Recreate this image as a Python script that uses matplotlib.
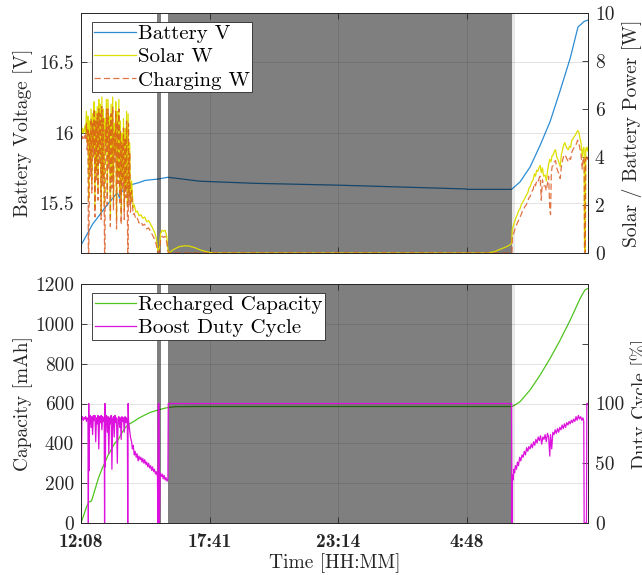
import matplotlib
matplotlib.use("Agg")
import matplotlib.pyplot as plt

# time axis: minutes after 12:08
xt = [0, 333, 666, 999]
xt_lab = ["12:08", "17:41", "23:14", "4:48"]
xmax = 1313
night = [(197, 206), (226, 1115)]   # shaded (dark) periods
dusk = (1115, 1124)

# battery voltage [V]
bat_t = [0, 10, 20, 30, 44, 60, 75, 90, 94, 100, 105, 114, 125, 135, 150, 165, 180, 199, 215, 225,
         308, 450, 666, 850, 997, 999, 1115, 1137, 1163, 1189, 1215, 1241, 1267, 1287, 1303, 1313]
bat_v = [15.20, 15.25, 15.30, 15.35, 15.40, 15.46, 15.51, 15.56, 15.57, 15.535, 15.58, 15.60, 15.62,
         15.634, 15.645, 15.66, 15.665, 15.67, 15.678, 15.683, 15.655, 15.64, 15.627, 15.612, 15.60,
         15.597, 15.597, 15.65, 15.756, 15.91, 16.08, 16.30, 16.53, 16.75, 16.79, 16.80]

# solar power [W]
sol_t = [0, 2, 4, 6, 8, 10, 12, 14, 16, 18, 20, 22, 24, 26, 28, 30, 32, 34, 36, 38, 40, 42, 44, 46, 48,
         50, 52, 54, 56, 58, 60, 62, 64, 66, 68, 70, 72, 74, 76, 78, 80, 82, 84, 86, 88, 90, 92, 94, 96,
         98, 100, 102, 104, 106, 108, 110, 112, 114, 116, 118, 120, 122, 124, 126, 128, 131, 135, 138,
         142, 146, 150, 155, 160, 165, 170, 175, 180, 185, 191, 195, 199, 203, 206, 210, 214, 218, 222,
         225, 228, 240, 255, 270, 280, 295, 310, 330, 350, 1050, 1070, 1085, 1100, 1110, 1115, 1117,
         1120, 1123, 1126, 1130, 1133, 1137, 1140, 1143, 1147, 1150, 1153, 1157, 1160, 1163, 1167, 1171,
         1174, 1177, 1180, 1183, 1186, 1189, 1192, 1195, 1198, 1202, 1205, 1208, 1211, 1214, 1217, 1220,
         1223, 1226, 1229, 1232, 1235, 1238, 1241, 1244, 1247, 1250, 1253, 1256, 1259, 1262, 1265, 1268,
         1271, 1274, 1277, 1280, 1283, 1286, 1289, 1292, 1295, 1298, 1300, 1302, 1303, 1304, 1306, 1307,
         1309, 1311, 1313]
sol_w = [5.1, 5.0, 5.2, 5.0, 5.1, 5.3, 5.0, 5.9, 4.6, 5.7, 2.2, 5.5, 3.6, 6.0, 2.9, 5.8, 4.4, 6.3, 1.9,
         5.9, 3.4, 6.1, 2.6, 6.4, 4.1, 6.2, 1.7, 6.5, 3.2, 6.0, 2.0, 5.6, 4.6, 6.4, 2.4, 6.4, 3.9, 5.7,
         1.5, 6.2, 3.1, 6.5, 2.2, 5.4, 4.2, 6.3, 1.4, 5.9, 3.3, 6.4, 2.5, 5.5, 1.6, 5.0, 3.0, 5.6, 1.8,
         5.2, 2.7, 5.9, 2.0, 5.8, 2.4, 4.6, 2.1, 3.0, 1.9, 2.0, 1.7, 1.75, 1.55, 1.6, 1.45, 1.5, 1.3,
         1.35, 1.2, 1.05, 0.85, 0.6, 0.1, 0.2, 0.8, 0.95, 0.9, 0.95, 0.7, 0.15, 0.0, 0.15, 0.27, 0.3,
         0.29, 0.22, 0.12, 0.03, 0.0, 0.0, 0.05, 0.15, 0.25, 0.33, 0.4, 1.0,
         1.15, 1.3, 1.45, 1.6, 1.75, 1.85, 2.0, 2.1, 2.2, 2.3, 2.4, 2.5, 2.7, 2.75, 2.95, 3.05,
         3.3, 3.2, 3.45, 3.4, 3.55, 3.65, 3.35, 3.55, 3.2, 3.25, 3.0, 3.4, 3.7, 3.9, 3.8, 4.05,
         4.1, 4.25, 4.3, 4.0, 3.9, 3.75, 3.6, 4.1, 4.3, 4.5, 4.6, 4.45, 4.35, 4.3, 4.45, 4.4,
         4.7, 4.75, 4.85, 4.9, 5.0, 5.1, 5.05, 4.8, 4.6, 4.0, 4.3, 4.4, 4.3, 0.2, 0.05, 4.3,
         4.4, 4.25, 4.4]

# charging power [W]
chg_t = [0, 2, 4, 6, 8, 10, 12, 14, 16, 18, 19, 20, 21, 22, 24, 26, 28, 30, 32, 34, 36, 38, 40, 42, 44,
         46, 48, 50, 52, 54, 56, 58, 60, 61, 62, 63, 64, 66, 68, 70, 72, 74, 76, 78, 80, 82, 84, 86, 88,
         90, 92, 94, 96, 98, 100, 102, 104, 106, 108, 110, 112, 114, 116, 118, 120, 121, 122, 123, 124,
         126, 128, 131, 135, 138, 142, 146, 150, 155, 160, 165, 170, 175, 180, 185, 191, 195, 199, 203,
         206, 210, 214, 218, 222, 225, 228, 1116, 1117,
         1120, 1123, 1126, 1130, 1133, 1137, 1140, 1143, 1147, 1150, 1153, 1157, 1160, 1163, 1167, 1171,
         1174, 1177, 1180, 1183, 1186, 1189, 1192, 1195, 1198, 1202, 1205, 1208, 1211, 1214, 1216, 1218,
         1220, 1223, 1226, 1229, 1232, 1235, 1238, 1241, 1244, 1247, 1250, 1253, 1256, 1259, 1262, 1265,
         1268, 1271, 1274, 1277, 1280, 1283, 1286, 1289, 1292, 1295, 1298, 1300, 1302, 1303, 1304, 1306,
         1307, 1309, 1311, 1313]
chg_w = [4.8, 4.75, 4.85, 4.7, 4.8, 4.9, 4.7, 5.4, 4.3, 5.2, 0.0, 0.0, 1.8, 5.0, 3.2, 5.6, 2.5, 5.4,
         4.0, 6.0, 1.5, 5.5, 3.0, 5.8, 2.2, 6.0, 3.7, 5.8, 1.4, 6.1, 2.8, 5.6, 1.6, 0.0, 0.0, 5.2, 4.2,
         6.0, 2.0, 6.0, 3.5, 5.3, 1.1, 5.8, 2.7, 6.1, 1.8, 5.0, 3.8, 5.9, 1.0, 5.5, 2.9, 6.0, 2.1, 5.1,
         1.2, 4.6, 2.6, 5.2, 1.4, 4.8, 2.3, 5.5, 1.6, 0.0, 0.0, 5.4, 2.0, 4.2, 1.7, 2.6, 1.6, 1.65, 1.4,
         1.45, 1.25, 1.3, 1.15, 1.2, 1.0, 1.05, 0.9, 0.75, 0.55, 0.35, 0.0, 0.05, 0.55, 0.7, 0.65, 0.7,
         0.45, 0.05, 0.0, 0.0, 0.7,
         0.8, 0.95, 1.1, 1.25, 1.35, 1.5, 1.6, 1.75, 1.85, 1.95, 2.0, 2.15, 2.3, 2.35, 2.55, 2.65,
         2.9, 2.8, 3.0, 2.95, 3.1, 3.2, 2.2, 3.05, 2.8, 2.8, 2.6, 2.9, 3.2, 1.8, 1.6, 3.3,
         3.6, 3.65, 3.8, 3.85, 3.55, 3.4, 3.3, 3.1, 3.6, 3.85, 4.05, 4.1, 4.0, 3.9, 3.8, 3.95,
         3.9, 4.2, 4.3, 4.4, 4.45, 4.55, 4.7, 4.6, 4.35, 4.1, 3.5, 3.9, 4.0, 3.9, 0.0, 0.0,
         3.9, 4.0, 3.85, 4.0]

# recharged capacity [mAh]
cap_t = [0, 8, 15, 20, 27, 35, 45, 55, 61, 70, 80, 87, 96, 105, 115, 125, 135, 150, 165, 180, 199, 220,
         243, 300, 1115, 1120, 1137, 1163, 1189, 1215, 1241, 1267, 1293, 1305, 1311, 1313]
cap_mah = [0, 45, 85, 105, 110, 160, 225, 275, 300, 340, 375, 400, 417, 450, 480, 497, 508, 527, 542,
           556, 567, 578, 584, 585, 585, 588, 609, 668, 743, 827, 919, 1019, 1129, 1170, 1176, 1176]

# boost duty cycle [%]
duty_t = [0, 1, 2, 4, 6, 8, 10, 12, 14, 16, 18, 19, 20, 21, 22, 24, 26, 28, 30, 32, 34, 36, 38, 40, 42,
          44, 46, 48, 50, 52, 54, 56, 58, 60, 61, 62, 63, 64, 66, 68, 70, 72, 74, 76, 78, 80, 82, 84, 86,
          88, 90, 92, 94, 96, 98, 100, 102, 104, 106, 108, 110, 112, 114, 116, 118, 120, 121, 122, 123,
          125, 128, 131, 133, 135, 138, 140, 143, 145, 148, 150, 153, 155, 158, 160, 163, 165, 168, 170,
          173, 175, 178, 180, 183, 185, 188, 190, 193, 195, 198, 199, 200, 202, 203, 205, 208, 210, 213,
          215, 218, 220, 223, 225, 226, 1115, 1116, 1117, 1119, 1121, 1123, 1125, 1128, 1130, 1133, 1136,
          1139, 1142, 1145, 1148, 1151, 1154, 1157, 1160, 1163, 1166, 1169, 1172, 1175, 1178, 1181, 1184,
          1187, 1190, 1193, 1196, 1199, 1202, 1205, 1208, 1211, 1214, 1216, 1219, 1222, 1225, 1228, 1231,
          1234, 1237, 1240, 1243, 1246, 1249, 1252, 1255, 1258, 1261, 1264, 1267, 1270, 1273, 1276, 1279,
          1282, 1285, 1288, 1291, 1294, 1297, 1300, 1302, 1303, 1309, 1310, 1313]
duty_pct = [88, 45, 87, 89, 86, 88, 87, 89, 85, 88, 87, 0, 100, 44, 85, 90, 80, 89, 74, 90, 86, 90, 68,
            88, 83, 90, 62, 89, 84, 90, 78, 89, 85, 88, 0, 100, 47, 86, 90, 76, 89, 58, 88, 83, 90, 45,
            87, 89, 72, 90, 84, 88, 50, 87, 89, 80, 88, 70, 89, 85, 88, 76, 89, 84, 88, 82, 0, 100, 86,
            80, 72, 68, 62, 65, 57, 60, 55, 58, 52, 56, 53, 55, 51, 54, 50, 53, 49, 51, 47, 50, 46, 48,
            44, 47, 43, 45, 41, 43, 39, 0, 100, 100, 0, 42, 39, 41, 37, 40, 36, 38, 35, 37, 100, 100, 0,
            40, 36, 45, 42, 48, 45, 51, 48, 55, 52, 57, 55, 60, 57, 63, 60, 64, 62, 66, 63, 68, 65, 70,
            67, 72, 69, 73, 66, 72, 70, 74, 68, 75, 72, 56, 74, 62, 76, 74, 78, 75, 79, 76, 80, 78, 82,
            79, 83, 80, 84, 82, 85, 83, 86, 84, 87, 85, 89, 86, 90, 87, 89, 86, 88, 85, 0, 0, 100, 100]

plt.rcParams["font.family"] = "cmr10"
plt.rcParams["axes.unicode_minus"] = False
plt.rcParams["font.size"] = 14
INK = "#262626"
GRID = dict(color=INK, alpha=0.15, lw=0.6)
LEG = dict(loc="upper left", fancybox=False, framealpha=1, edgecolor=INK, fontsize=15,
           borderpad=0.12, labelspacing=0.22, handlelength=2.0, handletextpad=0.1, borderaxespad=0)

fig = plt.figure(figsize=(6.42, 5.75), dpi=100)
ax1 = fig.add_axes([0.1262, 0.56, 0.7897, 0.4174])
ax3 = fig.add_axes([0.1262, 0.0904, 0.7897, 0.4157])


def frame(ax, ax_r):
    ax.set_xlim(0, xmax)
    ax.set_xticks(xt)
    ax.set_axisbelow(False)
    ax.grid(True, **GRID)
    for a in (ax, ax_r):
        for s in a.spines.values():
            s.set_color(INK)
            s.set_linewidth(0.6)
    ax.tick_params(direction="in", top=True, right=False, length=4, width=0.6, colors=INK, pad=5)
    ax_r.tick_params(direction="in", length=4, width=0.6, colors=INK, pad=5)
    for a, b in night:
        ax.axvspan(a, b, color="black", alpha=0.5, lw=0, zorder=2.2)
    ax.axvspan(*dusk, color="black", alpha=0.09, lw=0, zorder=2.2)


# --- top: battery voltage / power
ax2 = ax1.twinx()
lb, = ax1.plot(bat_t, bat_v, color="#2b8cd4", lw=0.9, label="Battery V")
ls, = ax2.plot(sol_t, sol_w, color="#dede00", lw=0.9, label="Solar W")
lc, = ax2.plot(chg_t, chg_w, color="#D95319", lw=0.9, alpha=0.8, ls=(0, (5, 2.5)), label="Charging W")
ax1.set_ylim(15.145, 16.85)
ax1.set_yticks([15.5, 16, 16.5], ["15.5", "16", "16.5"])
ax2.set_ylim(0, 10)
ax2.set_yticks([0, 2, 4, 6, 8, 10], ["0", "2", "4", "6", "8", "10"])
frame(ax1, ax2)
ax1.set_xticklabels([])
ax1.set_ylabel("Battery Voltage [V]", color=INK)
ax1.yaxis.set_label_coords(-0.095, 0.5)
ax2.set_ylabel("Solar / Battery Power [W]", color=INK)
ax2.yaxis.set_label_coords(1.067, 0.5)
leg = ax2.legend(handles=[lb, ls, lc], bbox_to_anchor=(0.021, 0.962), **LEG)
leg.get_frame().set_linewidth(0.6)

# --- bottom: capacity / duty cycle
ax4 = ax3.twinx()
lg, = ax3.plot(cap_t, cap_mah, color="#4fc41f", lw=0.9, label="Recharged Capacity")
lm, = ax4.plot(duty_t, duty_pct, color="#dd11dd", lw=0.9, label="Boost Duty Cycle")
ax3.set_ylim(0, 1200)
ax3.set_yticks(range(0, 1201, 200))
ax4.set_ylim(0, 200)
ax4.set_yticks([0, 50, 100, 150], ["0", "50", "100", ""])
frame(ax3, ax4)
ax3.set_xticklabels(xt_lab, family="cmb10")
ax3.tick_params(axis="x", pad=7)
ax3.set_ylabel("Capacity [mAh]", color=INK)
ax3.yaxis.set_label_coords(-0.095, 0.5)
ax4.set_ylabel("Duty Cycle [%]", color=INK)
ax4.yaxis.set_label_coords(1.083, 0.5)
ax3.set_xlabel("Time [HH:MM]", color=INK)
ax3.xaxis.set_label_coords(0.5, -0.125)
leg = ax4.legend(handles=[lg, lm], bbox_to_anchor=(0.0217, 0.963), **LEG)
leg.get_frame().set_linewidth(0.6)

fig.savefig("out.png", dpi=100)
